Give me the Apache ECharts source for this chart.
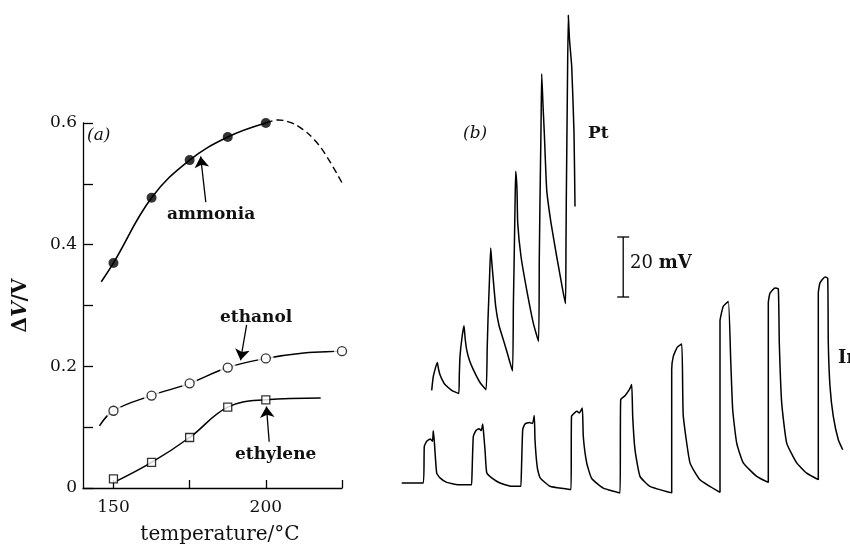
<!DOCTYPE html>
<html>
<head>
<meta charset="utf-8">
<script src="https://cdn.jsdelivr.net/npm/echarts@6/dist/echarts.min.js"></script>
<style>
  html, body { margin: 0; padding: 0; background: #fff; }
  #chart { width: 850px; height: 544px; }
</style>
</head>
<body>
<div id="chart"></div>
<script>
// (a) response vs temperature
const temps = [150, 162.5, 175, 187.5, 200]
const ammonia = [0.370, 0.477, 0.539, 0.577, 0.600]
const ethanolTemps = [150, 162.5, 175, 187.5, 200, 225]
const ethanol = [0.127, 0.152, 0.172, 0.198, 0.213, 0.225]
const ethylene = [0.015, 0.042, 0.083, 0.133, 0.145]

// drawn curves
const ammoniaCurve = [[146, 0.339], [150, 0.370], [162.5, 0.477], [175, 0.539], [187.5, 0.577], [200, 0.600]]
const ammoniaDashed = [[200, 0.600], [204, 0.605], [208, 0.601], [212, 0.590], [216, 0.572], [220, 0.545], [225.5, 0.497]]
const ethanolCurve = [[145.4, 0.102], [150, 0.127], [162.5, 0.152], [175, 0.172], [187.5, 0.198], [200, 0.213], [212.5, 0.222], [225, 0.225], [229.8, 0.227]]
const ethyleneCurve = [[150.5, 0.010], [162.5, 0.042], [175, 0.083], [187.5, 0.133], [200, 0.145], [218, 0.148]]

const xTicks = [150, 175, 200, 225]
const xLabels = [150, 200]
const yTicks = [0, 0.1, 0.2, 0.3, 0.4, 0.5, 0.6]
const yLabels = [0, 0.2, 0.4, 0.6]

// (b) potential traces, time (arb.) vs mV
const ptTrace = [
  [31.7, 30.9], [33.3, 35.5], [37.3, 40.2], [38.5, 38], [40, 36.1], [42.5, 34.2], [45, 32.8], [51.7, 30.9], [58.7, 29.8],
  [59.3, 36], [60, 42.2], [62, 48.5], [64, 52.4], [65.2, 48], [66.7, 44.4], [69.5, 40.8], [73.3, 37.8], [80, 33.5], [86, 31.1],
  [87.2, 45], [88, 54.4], [89.5, 68], [90.7, 78.3], [91.6, 74.5], [92.7, 70], [95.7, 58.9], [99, 52.5], [103.3, 47.8], [108, 42.5], [112.5, 37.3],
  [113.4, 60], [114, 71.1], [115, 92], [115.7, 103.9], [117, 97.8], [117.7, 86.7], [121, 75.5], [126.7, 64.4], [133.3, 53.3], [138.5, 47.2],
  [139.3, 75], [140, 94.4], [141, 118], [141.7, 136.4], [143, 126], [144.3, 116.7], [146.7, 97.8], [151, 86.7], [156.7, 75.5], [162.7, 64.4], [165.5, 59.8],
  [166, 80], [166.3, 94.4], [167.3, 128], [168.3, 155.9], [169.5, 147.8], [171.7, 138.9], [174, 116.8], [175, 92.2]
]
const inTrace = [
  [1.7, 0], [23.3, 0],
  [24.3, 12.2], [26.7, 13.9], [30.3, 14.7], [32.5, 13.9], [33.3, 17.4], [34.3, 13.9], [36.7, 3.3], [40, 1.7], [46.7, 0.2], [58.3, -0.6], [71.7, -0.6],
  [72.3, -0.6], [73.3, 15.5], [76, 17.5], [79, 18.1], [81.3, 17.5], [82.7, 19.7], [83.5, 17.1], [85, 11.1], [86.7, 3.5], [91.7, 1.7], [100, 0], [111.7, -1.1], [121, -1.1],
  [121.7, -1.1], [122.7, 17.8], [125, 19.7], [129.3, 20.2], [132.5, 19.8], [134.3, 22.5], [135, 14.4], [137.3, 5.1], [140, 1.8], [150, -1.1], [171, -2.2],
  [171.5, 22.2], [175, 23.5], [177, 23.9], [179.3, 23.3], [182.3, 25], [183.3, 15.5], [186.7, 6.7], [191.7, 1.5], [203.3, -1.7], [220, -3.3],
  [220.7, 27.8], [225, 29.1], [229.3, 31.1], [231.7, 32.8], [232.7, 22.2], [235, 11.1], [240, 2.2], [250, -1.1], [271.7, -3.3],
  [271.7, 37.8], [273.3, 42.2], [277.3, 45.3], [281.7, 46.3], [282.7, 31.1], [283.3, 22.2], [290, 6.7], [300, 1.1], [320, -3.1],
  [320, 53.9], [323.3, 58.9], [328.3, 60.5], [330.7, 41.1], [332.7, 24.4], [336.7, 13.3], [343.3, 6.7], [356.7, 2.2], [368.3, 0.2],
  [368.3, 60], [370, 63.3], [375, 65], [378.3, 64.7], [379.3, 46.7], [381.7, 26.7], [386.7, 13.3], [396.7, 6.7], [406.7, 3.3], [418.3, 1.1],
  [418.3, 63.3], [420, 66.7], [425, 68.7], [427.7, 68.3], [428.3, 46.7], [430, 32.2], [433.3, 22.2], [438.3, 14.4], [442.7, 11.1]
]
// scale bar: time position, bottom mV, top mV (20 mV)
const scaleBar = [[223.2, 62, 82]]

const FONT = 'DejaVu Serif'
const INK = '#111'

const chart = echarts.init(document.getElementById('chart'))

const option = {
  backgroundColor: '#fff',
  animation: false,
  grid: [
    { left: 83, top: 123, width: 259, height: 365, outerBoundsMode: 'none', containLabel: false },
    { left: 400, right: 0, top: 3, height: 495, outerBoundsMode: 'none', containLabel: false }
  ],
  xAxis: [
    {
      gridIndex: 0, type: 'value', min: 140, max: 225,
      axisLine: { lineStyle: { color: '#000', width: 1.3 } },
      axisTick: { inside: true, length: 8, customValues: xTicks, lineStyle: { color: '#000', width: 1.3 } },
      axisLabel: { customValues: xLabels, color: INK, fontFamily: FONT, fontSize: 17, margin: 11 },
      splitLine: { show: false },
      name: 'temperature/°C', nameLocation: 'middle', nameGap: 37,
      nameTextStyle: { color: INK, fontFamily: FONT, fontSize: 20, padding: [0, 0, 0, 15] }
    },
    { gridIndex: 1, type: 'value', min: 0, max: 450, show: false }
  ],
  yAxis: [
    {
      gridIndex: 0, type: 'value', min: 0, max: 0.6,
      axisLine: { show: true, lineStyle: { color: '#000', width: 1.3 } },
      axisTick: { show: true, inside: true, length: 10, customValues: yTicks, lineStyle: { color: '#000', width: 1.3 } },
      axisLabel: {
        customValues: yLabels, color: INK, fontFamily: FONT, fontSize: 17, margin: 6,
        formatter: v => (v === 0 ? '0' : v.toFixed(1))
      },
      splitLine: { show: false },
      name: '{n|Δ}{i|V}{n|/V}', nameLocation: 'middle', nameGap: 52,
      nameTextStyle: {
        rich: {
          n: { fontFamily: FONT, fontSize: 20, fontWeight: 'bold', color: INK },
          i: { fontFamily: FONT, fontSize: 20, fontWeight: 'bold', fontStyle: 'italic', color: INK }
        }
      }
    },
    { gridIndex: 1, type: 'value', min: -5, max: 160, show: false }
  ],
  series: [
    {
      type: 'line', xAxisIndex: 0, yAxisIndex: 0, data: ammoniaCurve, smooth: 0.4,
      showSymbol: false, clip: false, silent: true,
      lineStyle: { color: '#000', width: 1.6 }
    },
    {
      type: 'line', xAxisIndex: 0, yAxisIndex: 0, data: ammoniaDashed, smooth: 0.4,
      showSymbol: false, clip: false, silent: true,
      lineStyle: { color: '#000', width: 1.4, type: [7, 4] }
    },
    {
      type: 'scatter', xAxisIndex: 0, yAxisIndex: 0, z: 4,
      data: temps.map((t, i) => [t, ammonia[i]]),
      symbol: 'circle', symbolSize: 10, itemStyle: { color: '#000' }
    },
    {
      type: 'line', xAxisIndex: 0, yAxisIndex: 0, data: ethanolCurve, smooth: 0.4,
      showSymbol: false, clip: false, silent: true, z: 2,
      lineStyle: { color: '#000', width: 1.5 }
    },
    {
      // white halo so the line stops short of each circle
      type: 'scatter', xAxisIndex: 0, yAxisIndex: 0, z: 3, silent: true,
      data: ethanolTemps.map((t, i) => [t, ethanol[i]]),
      symbol: 'circle', symbolSize: 16, itemStyle: { color: '#fff' }
    },
    {
      type: 'scatter', xAxisIndex: 0, yAxisIndex: 0, z: 4,
      data: ethanolTemps.map((t, i) => [t, ethanol[i]]),
      symbol: 'circle', symbolSize: 9,
      itemStyle: { color: '#fff', borderColor: '#000', borderWidth: 1.3 }
    },
    {
      type: 'line', xAxisIndex: 0, yAxisIndex: 0, data: ethyleneCurve, smooth: 0.4,
      showSymbol: false, clip: false, silent: true, z: 2,
      lineStyle: { color: '#000', width: 1.5 },
      markLine: {
        silent: true,
        symbol: ['none', 'arrow'],
        symbolSize: 11,
        label: { show: false },
        lineStyle: { color: '#000', width: 1.3, type: 'solid' },
        data: [
          [{ coord: [180.3, 0.470], lineStyle: { curveness: 0.15 } }, { coord: [178.6, 0.545] }],
          [{ coord: [193.7, 0.268], lineStyle: { curveness: 0.3 } }, { coord: [191.7, 0.210] }],
          [{ coord: [201.1, 0.076], lineStyle: { curveness: 0.05 } }, { coord: [200.2, 0.134] }]
        ]
      }
    },
    {
      type: 'scatter', xAxisIndex: 0, yAxisIndex: 0, z: 4,
      data: temps.map((t, i) => [t, ethylene[i]]),
      symbol: 'rect', symbolSize: 8,
      itemStyle: { color: '#fff', borderColor: '#000', borderWidth: 1.3 }
    },
    {
      type: 'line', xAxisIndex: 1, yAxisIndex: 1, data: ptTrace, smooth: 0.15,
      showSymbol: false, clip: false, silent: true,
      lineStyle: { color: '#000', width: 1.5 }
    },
    {
      type: 'line', xAxisIndex: 1, yAxisIndex: 1, data: inTrace, smooth: 0.15,
      showSymbol: false, clip: false, silent: true,
      lineStyle: { color: '#000', width: 1.5 }
    },
    {
      type: 'custom', xAxisIndex: 1, yAxisIndex: 1, data: scaleBar, silent: true,
      renderItem: (params, api) => {
        const lo = api.coord([api.value(0), api.value(1)])
        const hi = api.coord([api.value(0), api.value(2)])
        const cap = 6
        const st = { stroke: '#000', lineWidth: 1.3 }
        return {
          type: 'group',
          children: [
            { type: 'line', shape: { x1: lo[0], y1: lo[1], x2: hi[0], y2: hi[1] }, style: st },
            { type: 'line', shape: { x1: hi[0] - cap, y1: hi[1], x2: hi[0] + cap, y2: hi[1] }, style: st },
            { type: 'line', shape: { x1: lo[0] - cap, y1: lo[1], x2: lo[0] + cap, y2: lo[1] }, style: st }
          ]
        }
      }
    }
  ],
  graphic: [
    { type: 'text', left: 87, top: 127, style: { text: '(a)', font: 'italic 17px "DejaVu Serif"', fill: INK } },
    { type: 'text', left: 167, top: 206, style: { text: 'ammonia', font: 'bold 17px "DejaVu Serif"', fill: INK } },
    { type: 'text', left: 220, top: 309, style: { text: 'ethanol', font: 'bold 17px "DejaVu Serif"', fill: INK } },
    { type: 'text', left: 235, top: 446, style: { text: 'ethylene', font: 'bold 17px "DejaVu Serif"', fill: INK } },
    { type: 'text', left: 463, top: 125, style: { text: '(b)', font: 'italic 17px "DejaVu Serif"', fill: INK } },
    { type: 'text', left: 588, top: 125, style: { text: 'Pt', font: 'bold 17px "DejaVu Serif"', fill: INK } },
    { type: 'text', left: 838, top: 349, style: { text: 'In', font: 'bold 18px "DejaVu Serif"', fill: INK } },
    {
      type: 'text', left: 630, top: 254,
      style: {
        text: '{n|20 }{b|mV}',
        rich: {
          n: { fontFamily: FONT, fontSize: 18, fill: INK },
          b: { fontFamily: FONT, fontSize: 18, fontWeight: 'bold', fill: INK }
        }
      }
    }
  ]
}

chart.setOption(option)
</script>
</body>
</html>
